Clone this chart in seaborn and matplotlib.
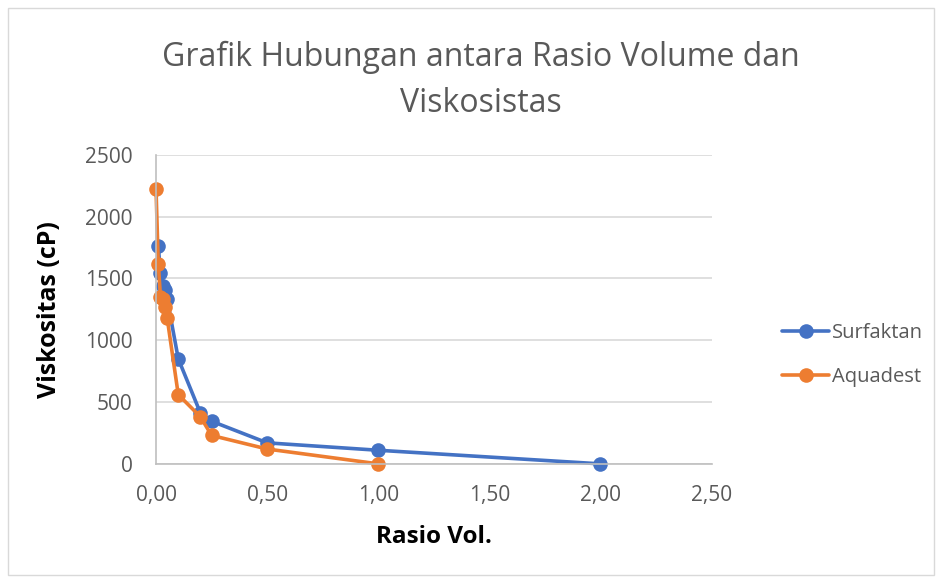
import matplotlib
matplotlib.use("Agg")
import matplotlib.pyplot as plt
import seaborn as sns
import pandas as pd
from matplotlib.ticker import FuncFormatter, MultipleLocator
from matplotlib.patches import Rectangle

# ---- data ----
surf_x = [0.01, 0.02, 0.03, 0.04, 0.05, 0.10, 0.20, 0.25, 0.50, 1.00, 2.00]
surf_y = [1760, 1545, 1440, 1410, 1335, 850, 410, 345, 170, 110, 0]
aqua_x = [0.00, 0.01, 0.02, 0.03, 0.04, 0.05, 0.10, 0.20, 0.25, 0.50, 1.00]
aqua_y = [2220, 1620, 1350, 1330, 1270, 1180, 560, 380, 230, 120, 0]
series_names = ["Surfaktan", "Aquadest"]
colors = {"Surfaktan": "#4472C4", "Aquadest": "#ED7D31"}

df = pd.concat([
    pd.DataFrame({"x": surf_x, "y": surf_y, "series": series_names[0]}),
    pd.DataFrame({"x": aqua_x, "y": aqua_y, "series": series_names[1]}),
])

sns.set_style("white")
plt.rcParams["font.family"] = ["Open Sans", "DejaVu Sans"]

fig = plt.figure(figsize=(9.4, 5.82), dpi=100)
ax = fig.add_axes([0.166, 0.203, 0.591, 0.531])

sns.lineplot(data=df, x="x", y="y", hue="series", palette=colors,
             marker="o", markersize=10.5, markeredgewidth=0, linewidth=2.6,
             sort=False, estimator=None, ax=ax)

ax.set_xlim(0, 2.5)
ax.set_ylim(0, 2500)
ax.xaxis.set_major_locator(MultipleLocator(0.5))
ax.yaxis.set_major_locator(MultipleLocator(500))
ax.xaxis.set_major_formatter(FuncFormatter(lambda v, p: f"{v:.2f}".replace(".", ",")))
ax.grid(axis="y", color="#D9D9D9", linewidth=1.2)
ax.grid(axis="x", visible=False)
for s in ["top", "right"]:
    ax.spines[s].set_visible(False)
for s in ["left", "bottom"]:
    ax.spines[s].set_color("#BFBFBF")
    ax.spines[s].set_linewidth(1.2)
ax.tick_params(axis="both", labelsize=15, colors="#595959", length=0)
ax.tick_params(axis="y", pad=17)
ax.tick_params(axis="x", pad=15)
for ln in ax.lines:
    ln.set_clip_on(False)

ax.set_xlabel("Rasio Vol.", fontsize=17.5, fontweight="bold", color="black", labelpad=14)
ax.set_ylabel("Viskositas (cP)", fontsize=18, fontweight="bold", color="black", labelpad=16)
ax.set_title("Grafik Hubungan antara Rasio Volume dan\nViskosistas", fontsize=23,
             color="#595959", pad=31, linespacing=1.5, x=0.585)

handles, labels = ax.get_legend_handles_labels()
ax.legend_.remove()
fig.legend(handles, labels, loc="center left", bbox_to_anchor=(0.813, 0.39),
           frameon=False, fontsize=14.5, labelspacing=1.15, handlelength=2.3,
           handletextpad=0.15, labelcolor="#595959")

fig.patches.append(Rectangle((0.009, 0.012), 0.985, 0.975, transform=fig.transFigure,
                             fill=False, edgecolor="#D9D9D9", linewidth=1))

fig.savefig("out.png", dpi=100)
